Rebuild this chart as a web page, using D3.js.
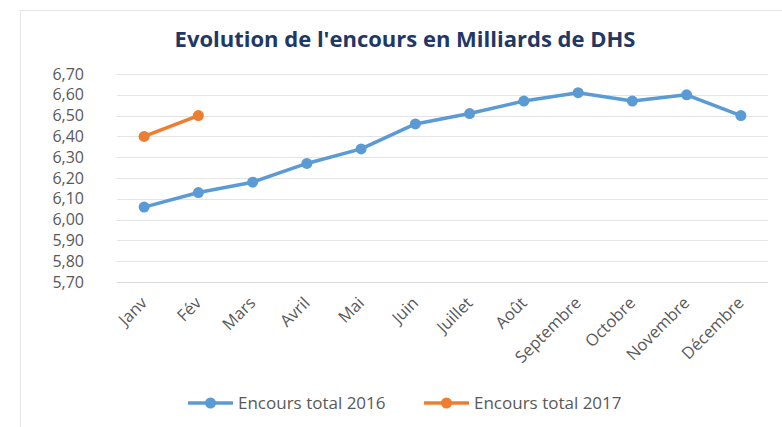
<!DOCTYPE html>
<html>
<head>
<meta charset="utf-8">
<script src="https://cdn.jsdelivr.net/npm/d3@7"></script>
<style>
  body { margin: 0; background: #fff; }
  svg { display: block; font-family: "Open Sans", "Noto Sans", sans-serif; }
</style>
</head>
<body>
<svg id="chart" width="782" height="427"></svg>
<script>
const months = ["Janv", "Fév", "Mars", "Avril", "Mai", "Juin", "Juillet", "Août", "Septembre", "Octobre", "Novembre", "Décembre"];
const total2016 = [6.06, 6.13, 6.18, 6.27, 6.34, 6.46, 6.51, 6.57, 6.61, 6.57, 6.60, 6.50];
const total2017 = [6.40, 6.50];
const yTicks = [5.70, 5.80, 5.90, 6.00, 6.10, 6.20, 6.30, 6.40, 6.50, 6.60, 6.70];

const series = [
  {name: "Encours total 2016", values: total2016, color: "#5B9BD5"},
  {name: "Encours total 2017", values: total2017, color: "#ED7D31"}
];

const W = 782, H = 427;
const plot = {left: 117, right: 768, top: 74, bottom: 282};

const svg = d3.select("#chart");

// outer frame of the chart area
svg.append("rect")
  .attr("x", 20.5).attr("y", 10.5)
  .attr("width", W).attr("height", H)
  .attr("fill", "none")
  .attr("stroke", "#e6e6e6");

const x = d3.scaleBand().domain(months).range([plot.left, plot.right]);
const y = d3.scaleLinear().domain([5.70, 6.70]).range([plot.bottom, plot.top]);
const fmt = v => d3.format(".2f")(v).replace(".", ",");

// horizontal gridlines
svg.append("g")
  .selectAll("line")
  .data(yTicks)
  .join("line")
  .attr("x1", plot.left).attr("x2", plot.right)
  .attr("y1", d => Math.round(y(d)) + 0.5)
  .attr("y2", d => Math.round(y(d)) + 0.5)
  .attr("stroke", d => d === 5.70 ? "#d9d9d9" : "#e4e4e4")
  .attr("stroke-width", 1);

// y labels
svg.append("g")
  .selectAll("text")
  .data(yTicks)
  .join("text")
  .attr("x", 84)
  .attr("y", d => y(d))
  .attr("dy", "0.35em")
  .attr("text-anchor", "end")
  .attr("fill", "#595959")
  .style("font-size", "16px")
  .text(fmt);

// x labels, rotated
svg.append("g")
  .selectAll("text")
  .data(months)
  .join("text")
  .attr("transform", d => `translate(${x(d) + x.bandwidth() / 2 + 4},${plot.bottom + 22}) rotate(-45)`)
  .attr("text-anchor", "end")
  .attr("fill", "#595959")
  .style("font-size", "16.5px")
  .text(d => d);

const line = d3.line()
  .x((d, i) => x(months[i]) + x.bandwidth() / 2)
  .y(d => y(d));

const g = svg.append("g");
series.forEach(s => {
  g.append("path")
    .datum(s.values)
    .attr("d", line)
    .attr("fill", "none")
    .attr("stroke", s.color)
    .attr("stroke-width", 3.5)
    .attr("stroke-linejoin", "round");
  g.selectAll(null)
    .data(s.values)
    .join("circle")
    .attr("cx", (d, i) => x(months[i]) + x.bandwidth() / 2)
    .attr("cy", d => y(d))
    .attr("r", 5.5)
    .attr("fill", s.color);
});

// title
svg.append("text")
  .attr("x", 405).attr("y", 47)
  .attr("text-anchor", "middle")
  .attr("fill", "#1F3864")
  .style("font-size", "22px")
  .style("font-weight", "bold")
  .text("Evolution de l'encours en Milliards de DHS");

// legend
const legendX = [188, 424];
const legend = svg.append("g")
  .selectAll("g")
  .data(series)
  .join("g")
  .attr("transform", (d, i) => `translate(${legendX[i]},403)`);
legend.append("line")
  .attr("x1", 0).attr("x2", 45)
  .attr("stroke", d => d.color)
  .attr("stroke-width", 3.5);
legend.append("circle")
  .attr("cx", 22.5).attr("r", 5.5)
  .attr("fill", d => d.color);
legend.append("text")
  .attr("x", 50)
  .attr("dy", "0.35em")
  .attr("fill", "#595959")
  .style("font-size", "17px")
  .text(d => d.name);
</script>
</body>
</html>
